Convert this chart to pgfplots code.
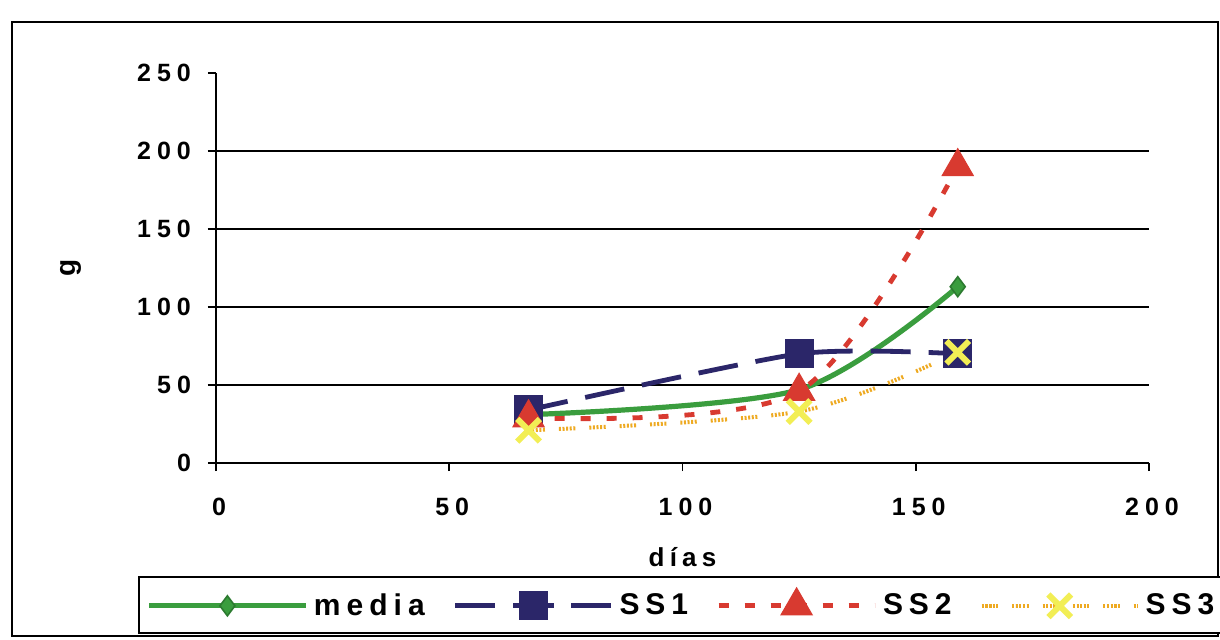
\documentclass[border=0pt]{standalone}
\usepackage{fontspec}
\setmainfont{Liberation Sans}[LetterSpace=20]
\usepackage{pgfplots}
\pgfplotsset{compat=1.18}
\definecolor{cmedia}{HTML}{3A9D3E}
\definecolor{cmediad}{HTML}{2C7A30}
\definecolor{cssone}{HTML}{2B2669}
\definecolor{csstwo}{HTML}{D83A30}
\definecolor{cssthree}{HTML}{EEAA22}
\definecolor{cssx}{HTML}{F2EE55}
\begin{document}
\begin{tikzpicture}
\useasboundingbox (0pt,0pt) rectangle (610pt,-319.5pt);
\draw[line width=0.8pt] (6pt,-11pt) rectangle (609pt,-318pt);
\begin{axis}[
  at={(108pt,-231.5pt)}, anchor=south west,
  scale only axis, width=466.5pt, height=195pt,
  xmin=0, xmax=200, ymin=0, ymax=250,
  axis x line=bottom, axis y line=left,
  axis line style={-, line width=0.8pt},
  xtick={0,50,...,200}, ytick={0,50,...,250},
  xticklabels={0,50,100,150,200},
  yticklabels={0,50,100,150,200,250},
  tick align=outside, major tick length=4pt,
  tick style={black, line width=0.8pt},
  extra y ticks={50,100,150,200}, extra y tick labels={},
  extra y tick style={grid=major, major grid style={black, line width=0.7pt}},
  ticklabel style={font=\bfseries\fontsize{12.5}{14}\selectfont\addfontfeature{LetterSpace=24}},
  xticklabel style={yshift=-10pt, xshift=1.5pt},
  yticklabel style={xshift=-5pt},
  xlabel={días},
  ylabel={g},
  xlabel style={at={(axis description cs:0.5,-0.241)}, anchor=center, font=\bfseries\fontsize{13}{15}\selectfont},
  ylabel style={at={(axis description cs:-0.156,0.5)}, anchor=center, rotate=0, font=\bfseries\fontsize{14}{16}\selectfont},
  legend columns=-1,
  legend style={at={(axis description cs:-0.0836,-0.2897)}, anchor=north west,
    draw=black, line width=0.8pt, inner xsep=4pt, inner ysep=5.5pt,
    font=\bfseries\fontsize{15}{17}\selectfont,
    /tikz/every even column/.append style={column sep=11pt},
    nodes={inner xsep=3pt}},
  legend image code/.code={\draw[mark repeat=2,mark phase=2] plot coordinates {(0pt,0pt)(39pt,0pt)(78pt,0pt)};},
]
\addplot[cmedia, line width=2.6pt, smooth, mark=diamond*, mark size=5pt,
  mark options={solid, fill=cmedia, draw=cmediad, line width=0.8pt}]
  coordinates {(67,31) (125,47) (159,113)};
\addlegendentry{m\hspace{3pt}edia}
\addplot[cssone, line width=2.4pt, smooth, tension=0.4, dash pattern=on 20pt off 9pt, mark=square*, mark size=7pt,
  mark options={solid, fill=cssone, draw=cssone, line width=0.5pt}]
  coordinates {(67,34) (125,70) (159,70)};
\addlegendentry{SS1}
\addplot[csstwo, line width=2.4pt, smooth, dash pattern=on 5pt off 8pt, mark=triangle*, mark size=9pt,
  mark options={solid, fill=csstwo, draw=csstwo, line width=0.5pt}]
  coordinates {(67,29) (125,46) (159,190)};
\addlegendentry{SS2}
\addplot[cssthree, line width=2pt, smooth,
  dash pattern=on 1pt off 0.8pt on 1pt off 0.8pt on 1pt off 0.8pt on 1pt off 0.8pt on 1pt off 7pt,
  mark=x, mark size=8pt,
  mark options={solid, draw=cssx, line width=3pt}]
  coordinates {(67,21) (125,33) (159,71)};
\addlegendentry{SS3}
\end{axis}
\end{tikzpicture}
\end{document}
